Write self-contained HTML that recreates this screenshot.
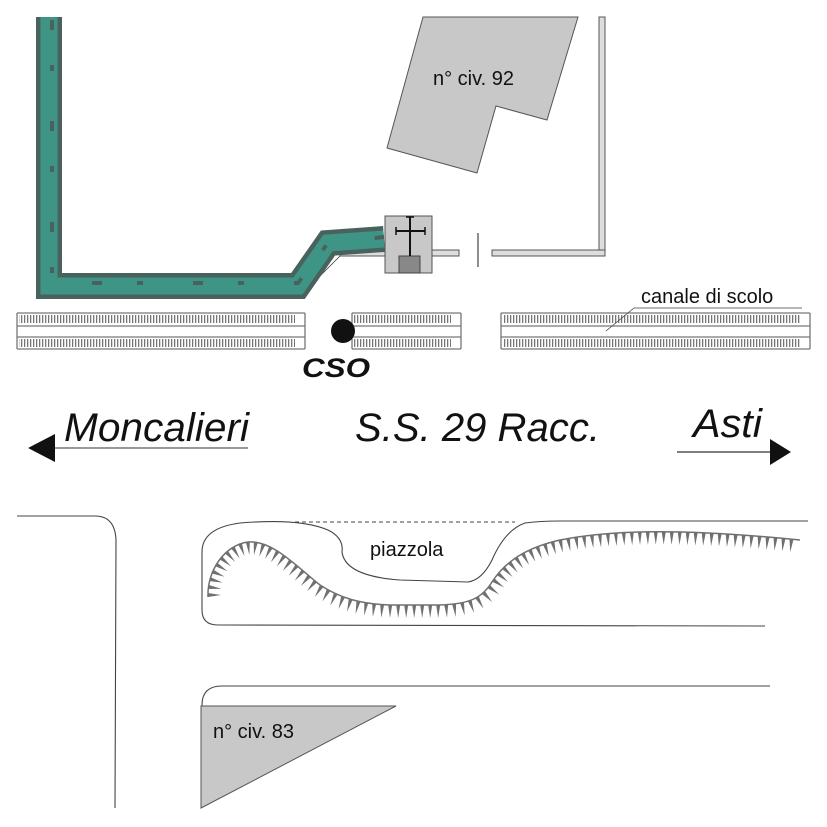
<!DOCTYPE html>
<html><head><meta charset="utf-8"><style>
html,body{margin:0;padding:0;background:#fff}
svg{display:block}
text{font-family:"Liberation Sans",Arial,sans-serif}
</style></head><body>
<svg id="s" width="827" height="827" viewBox="0 0 827 827" xmlns="http://www.w3.org/2000/svg">
<defs>
<pattern id="tt" x="0" y="0" width="3" height="20" patternUnits="userSpaceOnUse">
<rect x="0" y="0" width="1.3" height="20" fill="#777"/>
</pattern>
</defs>
<!-- building 92 -->
<polygon points="423,17 578,17 547,120 496,106 477,173 387,148" fill="#c8c8c8" stroke="#555" stroke-width="1"/>
<text x="433" y="85" font-size="20" fill="#111">n° civ. 92</text>
<!-- walls -->
<rect x="599" y="17" width="6" height="239" fill="#ddd" stroke="#555" stroke-width="1"/>
<rect x="492" y="250" width="113" height="6" fill="#ddd" stroke="#555" stroke-width="1"/>
<rect x="432" y="250" width="27" height="6" fill="#ddd" stroke="#555" stroke-width="1"/>
<rect x="340" y="250" width="50" height="6" fill="#ddd" stroke="#555" stroke-width="1"/>
<line x1="340" y1="256" x2="318" y2="278" stroke="#333" stroke-width="0.8"/>
<line x1="478" y1="233" x2="478" y2="267" stroke="#444" stroke-width="1.2"/>
<!-- green pipe -->
<g fill="none" stroke-linejoin="miter">
<path d="M49,17 L49,286 L298,286 L328,243 L384,239" stroke="#4a625d" stroke-width="26"/>
<path d="M49,17 L49,286 L298,286 L328,243 L384,239" stroke="#3e9585" stroke-width="17"/>
<path d="M52,20 L52,283 L298,283 L328,243 L384,237" stroke="#4a625d" stroke-width="4" stroke-dasharray="10 35 6 50"/>
</g>
<!-- box -->
<rect x="385" y="216" width="47" height="57" fill="#c8c8c8" stroke="#555" stroke-width="1"/>
<rect x="399" y="256" width="21" height="17" fill="#888" stroke="#444" stroke-width="1"/>
<line x1="410" y1="217" x2="410" y2="256" stroke="#111" stroke-width="2"/>
<line x1="396" y1="231" x2="425" y2="231" stroke="#111" stroke-width="2"/>
<line x1="396" y1="227" x2="396" y2="235" stroke="#111" stroke-width="1.5"/>
<line x1="425" y1="227" x2="425" y2="235" stroke="#111" stroke-width="1.5"/>
<line x1="406" y1="217" x2="414" y2="217" stroke="#111" stroke-width="1.5"/>
<!-- canals -->
<g id="canals"></g>
<text x="641" y="303" font-size="20" fill="#111">canale di scolo</text>
<polyline points="606,331 634,308 802,308" fill="none" stroke="#444" stroke-width="0.8"/>
<circle cx="343" cy="331" r="12" fill="#111"/>
<text x="302" y="377" font-size="27" font-weight="bold" font-style="italic" fill="#111" textLength="68" lengthAdjust="spacingAndGlyphs">CSO</text>
<!-- labels -->
<text x="64" y="441" font-size="40" font-style="italic" fill="#111" textLength="185" lengthAdjust="spacingAndGlyphs">Moncalieri</text>
<text x="355" y="441" font-size="40" font-style="italic" fill="#111" textLength="245" lengthAdjust="spacingAndGlyphs">S.S. 29 Racc.</text>
<text x="693" y="437" font-size="40" font-style="italic" fill="#111" textLength="69" lengthAdjust="spacingAndGlyphs">Asti</text>
<line x1="50" y1="448" x2="248" y2="448" stroke="#777" stroke-width="1.5"/>
<polygon points="28,448 55,434 55,462" fill="#111"/>
<line x1="677" y1="452" x2="772" y2="452" stroke="#333" stroke-width="1.2"/>
<polygon points="791,452 770,439 770,465" fill="#111"/>
<!-- bottom roads -->
<g fill="none" stroke="#444" stroke-width="1.1">
<path d="M17,516 L95,516 Q115,516 116,540 L115,808"/>
<path d="M765,626 L218,625 Q202,625 202,610 L202,552 Q202,528 240,523 Q300,518 328,530 Q344,538 342,552 Q345,576 400,580 L468,582 Q482,580 492,560 Q505,530 525,523 Q540,521 560,521 L808,521"/>
<path d="M770,686 L222,686 Q202,686 202,705 L202,706"/>
</g>
<line x1="295" y1="522" x2="515" y2="522" stroke="#444" stroke-width="0.9" stroke-dasharray="4 3"/>
<text x="370" y="556" font-size="20" fill="#111">piazzola</text>
<polygon points="201,706 396,706 201,808" fill="#c8c8c8" stroke="#555" stroke-width="1"/>
<text x="213" y="738" font-size="20" fill="#111">n° civ. 83</text>
<path id="hc" d="M208,597 C207,570 225,545 248,542 C272,540 295,565 320,585 C340,598 360,604 390,605 L440,605 C470,604 482,598 492,582 C505,562 525,548 560,540 C610,530 680,528 800,540" fill="none" stroke="#707070" stroke-width="1.5"/>
<g id="teeth"></g>
</svg>
<script>
(function(){
var ns="http://www.w3.org/2000/svg";
var c=document.getElementById('canals');
function el(n,a){var e=document.createElementNS(ns,n);for(var k in a)e.setAttribute(k,a[k]);c.appendChild(e);return e;}
[[17,305],[352,461],[501,810]].forEach(function(s){
 var x=s[0],w=s[1]-s[0];
 el('rect',{x:x+2,y:315,width:w-12,height:8,fill:'url(#tt)'});
 el('rect',{x:x+2,y:339,width:w-12,height:8,fill:'url(#tt)'});
 [313,326,337,349].forEach(function(y){el('line',{x1:x,y1:y,x2:x+w,y2:y,stroke:'#777','stroke-width':1.3});});
 el('line',{x1:x,y1:313,x2:x,y2:349,stroke:'#777','stroke-width':1.3});
 el('line',{x1:x+w,y1:313,x2:x+w,y2:349,stroke:'#777','stroke-width':1.3});
});
var p=document.getElementById('hc'),g=document.getElementById('teeth');
var L=p.getTotalLength();
for(var d=2;d<L-1;d+=8){
 var a=p.getPointAtLength(d-0.5),b=p.getPointAtLength(d+0.5);
 var dx=b.x-a.x,dy=b.y-a.y,m=Math.hypot(dx,dy)||1;dx/=m;dy/=m;
 var nx=-dy,ny=dx,q=p.getPointAtLength(d),len=13;
 var t=document.createElementNS(ns,'polygon');
 t.setAttribute('points',(q.x-dx*2)+','+(q.y-dy*2)+' '+(q.x+dx*2)+','+(q.y+dy*2)+' '+(q.x+nx*len)+','+(q.y+ny*len));
 t.setAttribute('fill','#707070');g.appendChild(t);
}
})();
</script>
</body></html>
